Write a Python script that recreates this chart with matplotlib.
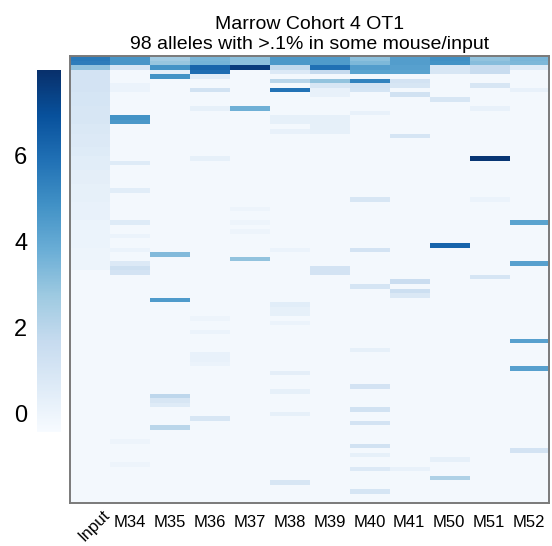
import numpy as np
import matplotlib
matplotlib.use("Agg")
import matplotlib.pyplot as plt
import matplotlib.transforms as mtransforms

plt.rcParams["font.family"] = ["Liberation Sans", "DejaVu Sans"]

columns = ["Input", "M34", "M35", "M36", "M37", "M38", "M39", "M40", "M41", "M50", "M51", "M52"]
n_alleles = 98
baseline = -0.25

# Input column: smooth fade over the first 47 alleles
input_top = [5.6, 5.5, 3.0, 1.1, 1.1, 1.1, 1.1, 1.1, 1.0, 1.0, 1.0, 0.9, 0.9, 0.9, 0.9,
             0.8, 0.8, 0.7, 0.7, 0.7, 0.6, 0.6, 0.5, 0.5, 0.5, 0.4, 0.4, 0.4, 0.3, 0.3,
             0.3, 0.3, 0.2, 0.2, 0.2, 0.2, 0.1, 0.1, 0.1, 0.1, 0.1, 0.1, 0.0, 0.0, 0.0,
             0.0, 0.0]

# (allele row, value) for every visible band in the mouse columns
m34 = [(0, 4.7), (1, 4.7), (2, 1.0), (6, 0.1), (7, 0.1), (13, 4.8), (14, 4.6), (23, 0.6),
       (29, 0.5), (36, 0.6), (39, 0.1), (42, 0.1), (45, 0.7), (46, 1.3), (47, 1.1),
       (84, 0.0), (89, 0.0)]
m35 = [(0, 2.6), (1, 2.9), (2, 4.8), (3, 0.4), (4, 4.8), (43, 3.3), (53, 4.5),
       (74, 1.9), (75, 0.9), (76, 0.6), (81, 2.0)]
m36 = [(0, 3.5), (1, 3.6), (2, 6.3), (3, 6.0), (4, 0.5), (7, 1.2), (11, 0.3), (22, 0.3),
       (57, 0.0), (60, 0.1), (65, 0.2), (66, 0.2), (67, 0.1), (79, 0.9)]
m37 = [(0, 3.1), (1, 3.1), (2, 7.6), (11, 3.7), (33, 0.0), (36, 0.0), (38, 0.0), (44, 3.0)]
m38 = [(0, 4.6), (1, 4.6), (2, 1.8), (3, 0.7), (5, 2.0), (7, 5.8), (13, 0.3), (14, 0.3),
       (16, 0.2), (42, 0.1), (54, 0.5), (55, 0.3), (56, 0.3), (58, 0.1), (69, 0.4),
       (73, 0.3), (78, 0.3), (93, 0.9)]
m39 = [(0, 4.5), (1, 4.5), (2, 5.9), (3, 1.7), (5, 3.0), (6, 0.9), (7, 0.2), (8, 0.2),
       (13, 0.3), (14, 0.3), (15, 0.3), (16, 0.3), (46, 1.1), (47, 1.1)]
m40 = [(0, 3.1), (1, 3.4), (2, 4.4), (3, 4.2), (5, 5.3), (6, 1.1), (7, 1.0), (12, 0.2),
       (31, 0.9), (42, 1.1), (50, 1.0), (64, 0.3), (72, 1.1), (77, 1.2), (80, 1.1),
       (85, 1.2), (87, 0.3), (90, 0.7), (95, 1.0)]
m41 = [(0, 4.4), (1, 4.4), (2, 4.3), (3, 4.2), (5, 1.1), (6, 0.9), (8, 1.2), (17, 1.0),
       (49, 1.5), (51, 1.4), (52, 0.8), (90, 0.2)]
m50 = [(0, 4.9), (1, 4.8), (2, 0.9), (3, 0.9), (9, 0.9), (41, 6.3), (88, 0.3), (92, 2.3)]
m51 = [(0, 3.0), (1, 3.2), (2, 1.6), (3, 1.6), (6, 0.9), (11, 0.2), (22, 7.8), (31, 0.1),
       (48, 1.0)]
m52 = [(0, 3.5), (1, 3.4), (2, 0.6), (7, 0.2), (36, 4.2), (45, 4.3), (62, 4.3), (68, 4.3),
       (86, 1.1)]

mouse_cols = [m34, m35, m36, m37, m38, m39, m40, m41, m50, m51, m52]

data = np.full((n_alleles, len(columns)), baseline)
data[:len(input_top), 0] = input_top
for j, col in enumerate(mouse_cols, start=1):
    for row, val in col:
        data[row, j] = val

fig = plt.figure(figsize=(5.52, 5.46), dpi=100)
ax = fig.add_axes([0.1268, 0.0788, 0.8678, 0.8186])
cax = fig.add_axes([0.067, 0.2088, 0.0435, 0.663])

im = ax.imshow(data, cmap="Blues", vmin=-0.42, vmax=8.0, aspect="auto",
               interpolation="nearest")

ax.set_yticks([])
ax.set_xticks(np.arange(len(columns)))
ax.set_xticklabels(columns, fontsize=12)
ax.tick_params(axis="x", length=0, pad=9)

# "Input" is the only slanted label; nudge it up so it sits like the original
lab = ax.get_xticklabels()[0]
lab.set_rotation(45)
lab.set_transform(lab.get_transform() +
                  mtransforms.ScaledTranslation(3 / 72, 6 / 72, fig.dpi_scale_trans))

for side in ax.spines.values():
    side.set_color("#7a7a7a")
    side.set_linewidth(1.4)

ax.set_title("Marrow Cohort 4 OT1\n98 alleles with >.1% in some mouse/input",
             fontsize=14, pad=5, linespacing=1.2)

cb = fig.colorbar(im, cax=cax, ticks=[0, 2, 4, 6])
cb.outline.set_visible(False)
cax.yaxis.set_ticks_position("left")
cax.tick_params(length=0, labelsize=17, pad=7)

fig.savefig("out.png", dpi=100)
